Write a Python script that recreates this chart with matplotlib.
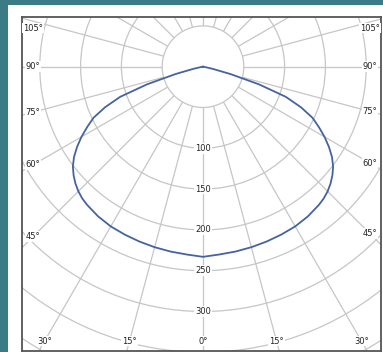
import numpy as np
import matplotlib
matplotlib.use('Agg')
import matplotlib.pyplot as plt
from matplotlib.patches import Circle, Rectangle

# luminous intensity (cd) vs angle from nadir, symmetric curve
angles_deg = [0, 5, 10, 15, 20, 25, 30, 35, 40, 42.5, 45, 47.5, 50, 52.5, 55, 57.5, 60,
              62.5, 65, 67.5, 70, 72.5, 75, 77.5, 80, 85, 90]
intensity = [233, 231, 230, 229, 228, 227, 226, 224, 221, 219, 216, 212, 207, 201, 193, 183, 172,
             160, 148, 130, 108, 72, 35, 12, 3, 0, 0]

ring_values = [50, 100, 150, 200, 250, 300, 350, 400]
ring_labels = [100, 150, 200, 250, 300]
spoke_angles = np.arange(0, 360, 15)
angle_labels = [0, 15, 30, 45, 60, 75, 90, 105]

W, H = 383, 352
cx, cy = 203, 66.7          # centre of the diagram in pixels
k = 0.816                   # pixels per cd
fl, fr, ft, fb = 22, 381, 17, 351   # frame in pixels

fig = plt.figure(figsize=(W / 100, H / 100), dpi=100)
fig.patch.set_facecolor('#3a7b86')
fig.add_artist(Rectangle((8 / W, 0), 1 - 8 / W, 1 - 5 / H, transform=fig.transFigure,
                         facecolor='white', edgecolor='none', zorder=0))

ax = fig.add_axes([fl / W, (H - fb) / H, (fr - fl) / W, (fb - ft) / H])
xmin, xmax = (fl - cx) / k, (fr - cx) / k
ymin, ymax = -(fb - cy) / k, (cy - ft) / k
ax.set_xlim(xmin, xmax)
ax.set_ylim(ymin, ymax)
ax.set_xticks([])
ax.set_yticks([])
for s in ax.spines.values():
    s.set_color('#555555')
    s.set_linewidth(1.3)

grid_c = '#c6c6c6'
# spokes
for a in spoke_angles:
    t = np.radians(a)
    ax.plot([50 * np.sin(t), 700 * np.sin(t)], [-50 * np.cos(t), -700 * np.cos(t)],
            color=grid_c, lw=0.9, zorder=1)
# rings
for r in ring_values[1:]:
    ax.add_patch(Circle((0, 0), r, fill=False, edgecolor=grid_c, lw=0.9, zorder=1))
ax.add_patch(Circle((0, 0), ring_values[0], facecolor='white', edgecolor=grid_c, lw=0.9, zorder=2))

# intensity curve
th = np.radians(np.array(angles_deg))
r = np.array(intensity, dtype=float)
th_all = np.concatenate([-th[::-1], th[1:]])
r_all = np.concatenate([r[::-1], r[1:]])
ax.plot(r_all * np.sin(th_all), -r_all * np.cos(th_all), color='#44639f', lw=1.3, zorder=4,
        solid_joinstyle='round')

lab_kw = dict(fontsize=6, color='#222222', ha='center', va='center', zorder=5,
              bbox=dict(facecolor='white', edgecolor='none', pad=0.6))
for v in ring_labels:
    ax.text(0, -v, str(v), **lab_kw)

ins_x = 11 / k
ins_y = 10 / k
for a in angle_labels:
    t = np.radians(a)
    for s in ([1] if a == 0 else [-1, 1]):
        dx, dy = s * np.sin(t), -np.cos(t)
        if a >= 45:
            x = (xmax - ins_x) if s > 0 else (xmin + ins_x)
            y = min(x / dx * dy, ymax - 11 / k)
        else:
            y = ymin + ins_y
            x = y / dy * dx
            x = min(max(x, xmin + 12 / k), xmax - 12 / k)
        ax.text(x, y, '%d°' % a, **lab_kw)

fig.savefig('out.png', dpi=100, facecolor=fig.get_facecolor())
